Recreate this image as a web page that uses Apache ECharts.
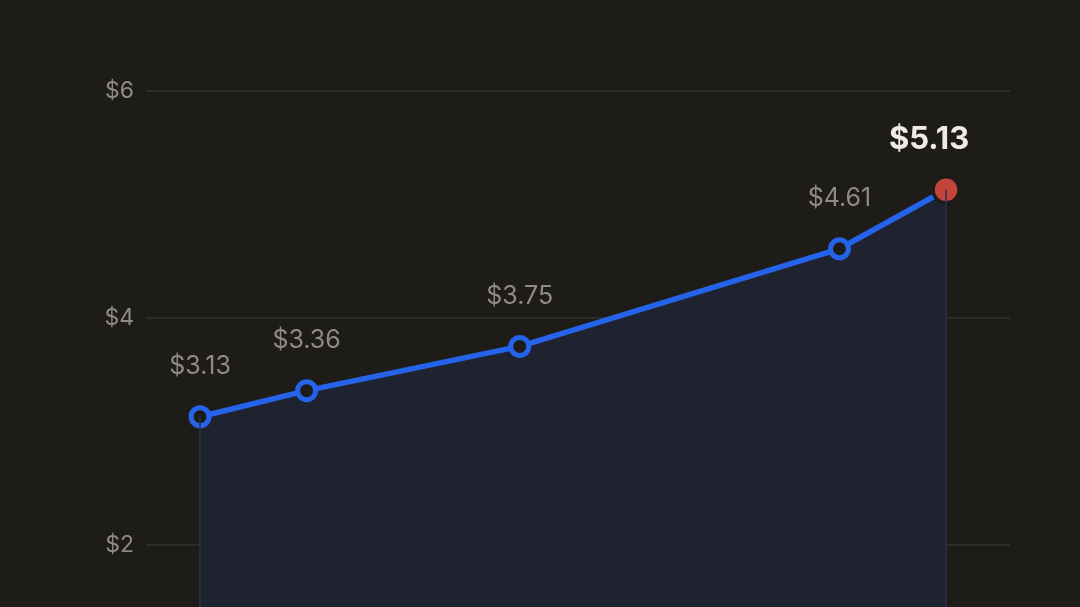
<!DOCTYPE html>
<html>
<head>
<meta charset="utf-8">
<script src="https://cdn.jsdelivr.net/npm/echarts@6/dist/echarts.min.js"></script>
<style>
html,body{margin:0;padding:0;background:#1e1c19;overflow:hidden;}
#chart{width:1080px;height:830px;}
</style>
</head>
<body>
<div id="chart"></div>
<script>
const years = [2018, 2019, 2021, 2024, 2025];
const prices = [3.13, 3.36, 3.75, 4.61, 5.13];
const yTicks = [0, 2, 4, 6];

const chart = echarts.init(document.getElementById('chart'));
const last = prices.length - 1;
const data = years.map((y, i) => {
  const d = { value: [y, prices[i]] };
  if (i === last) {
    d.symbol = 'circle';
    d.symbolSize = 26;
    d.itemStyle = { color: '#c4443c', borderColor: '#1e1c19', borderWidth: 3.5 };
    d.label = { fontSize: 31, fontWeight: 'bold', color: '#efebe4', distance: 20, offset: [-17, 0] };
  }
  return d;
});

chart.setOption({
  backgroundColor: '#1e1c19',
  animation: false,
  grid: { left: 146, right: 70, top: 91, bottom: 58, containLabel: false },
  xAxis: {
    type: 'value', min: 2017.493, max: 2025.6,
    axisLine: { show: false }, axisTick: { show: false },
    axisLabel: { show: false }, splitLine: { show: false }
  },
  yAxis: {
    type: 'value', min: yTicks[0], max: yTicks[yTicks.length - 1], interval: 2,
    axisLine: { show: false }, axisTick: { show: false },
    axisLabel: { formatter: v => v === 0 ? '' : '$' + v, color: '#8f8a83', fontSize: 23, fontFamily: 'Inter', margin: 12 },
    splitLine: { lineStyle: { color: '#2e2c29', width: 2 } }
  },
  series: [{
    type: 'line',
    data: data,
    symbol: 'circle',
    symbolSize: 18,
    showAllSymbol: true,
    lineStyle: { color: '#2563eb', width: 5.5 },
    itemStyle: { color: '#1e1c19', borderColor: '#2563eb', borderWidth: 5 },
    areaStyle: { color: '#1f2330', opacity: 1 },
    label: {
      show: true, position: 'top', distance: 26,
      formatter: p => '$' + p.value[1].toFixed(2),
      color: '#8f8a83', fontSize: 25, fontFamily: 'Inter'
    },
    z: 3,
    markLine: {
      silent: true, symbol: 'none', label: { show: false },
      lineStyle: { color: '#2b3347', width: 1.5, type: 'solid' },
      data: [
        [{ coord: [years[0], prices[0]] }, { coord: [years[0], 0] }],
        [{ coord: [years[last], prices[last]] }, { coord: [years[last], 0] }]
      ]
    }
  }]
});
</script>
</body>
</html>
